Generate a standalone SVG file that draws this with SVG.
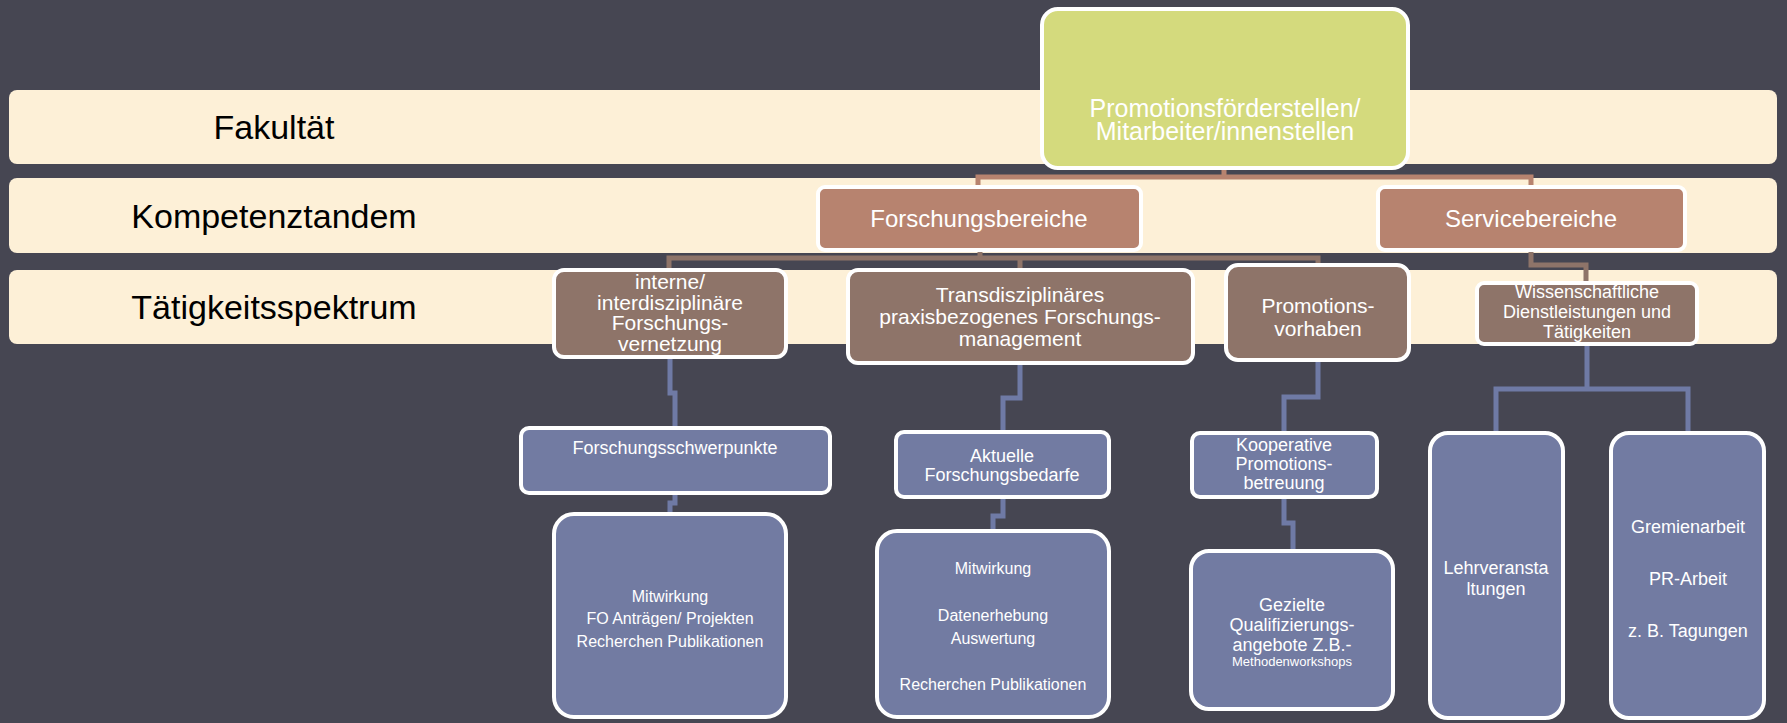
<svg xmlns="http://www.w3.org/2000/svg" width="1787" height="723" viewBox="0 0 1787 723">
<style>
text{font-family:"Liberation Sans",Arial,sans-serif;text-anchor:middle;fill:#ffffff}
.band{fill:#FDF0D7}
.bl{fill:#000000;font-size:34px}
.root{fill:#D4DA7D;stroke:#ffffff;stroke-width:4}
.l2{fill:#B7836F;stroke:#ffffff;stroke-width:4}
.l3{fill:#8E7469;stroke:#ffffff;stroke-width:4}
.bx{fill:#727BA2;stroke:#ffffff;stroke-width:4}
.c2{fill:none;stroke:#B7836F;stroke-width:5}
.c3{fill:none;stroke:#8E7469;stroke-width:5}
.cb{fill:none;stroke:#6F7AA5;stroke-width:5}
</style>
<rect x="0" y="0" width="1787" height="723" fill="#464652"/>
<g id="bands">
<rect class="band" x="9" y="90" width="1768" height="74" rx="8"/>
<rect class="band" x="9" y="178" width="1768" height="75" rx="8"/>
<rect class="band" x="9" y="270" width="1768" height="74" rx="8"/>
<text class="bl" x="274" y="139">Fakultät</text>
<text class="bl" x="274" y="228">Kompetenztandem</text>
<text class="bl" x="274" y="319">Tätigkeitsspektrum</text>
</g>
<g id="connectors">
<path class="c2" d="M1224,168 V177 M978,187 V177 H1531 V187"/>
<path class="c3" d="M980,250 V258 H669 V270 M980,258 H1318 V265 M1020,258 V270"/>
<path class="c3" d="M1531,250 V265 H1586 V283"/>
<path class="cb" d="M670,357 V393 H675 V428 M675,493 V503 H670 V514"/>
<path class="cb" d="M1020,363 V398 H1003 V432 M1003,497 V516 H993 V531"/>
<path class="cb" d="M1318,360 V397 H1284 V433 M1284,497 V523 H1293 V551"/>
<path class="cb" d="M1587,344 V389 M1496,433 V389 H1688 V433"/>
</g>
<g id="root">
<rect class="root" x="1042" y="9" width="366" height="159" rx="16"/>
<text font-size="25"><tspan x="1225" y="117">Promotionsförderstellen/</tspan><tspan x="1225" y="140">Mitarbeiter/innenstellen</tspan></text>
</g>
<g id="forschungsbereiche">
<rect class="l2" x="818" y="187" width="323" height="63" rx="7"/>
<text font-size="24" x="979" y="227">Forschungsbereiche</text>
</g>
<g id="servicebereiche">
<rect class="l2" x="1378" y="187" width="307" height="63" rx="7"/>
<text font-size="24" x="1531" y="227">Servicebereiche</text>
</g>
<g id="interne">
<rect class="l3" x="554" y="270" width="232" height="87" rx="10"/>
<text font-size="21"><tspan x="670" y="289">interne/</tspan><tspan x="670" y="310">interdisziplinäre</tspan><tspan x="670" y="330">Forschungs-</tspan><tspan x="670" y="351">vernetzung</tspan></text>
</g>
<g id="transdisziplinaer">
<rect class="l3" x="848" y="270" width="345" height="93" rx="10"/>
<text font-size="21"><tspan x="1020" y="302">Transdisziplinäres</tspan><tspan x="1020" y="324">praxisbezogenes Forschungs-</tspan><tspan x="1020" y="346">management</tspan></text>
</g>
<g id="promotionsvorhaben">
<rect class="l3" x="1226" y="265" width="183" height="95" rx="12"/>
<text font-size="21"><tspan x="1318" y="313">Promotions-</tspan><tspan x="1318" y="336">vorhaben</tspan></text>
</g>
<g id="wissenschaftliche">
<rect class="l3" x="1477" y="283" width="220" height="61" rx="7"/>
<text font-size="18"><tspan x="1587" y="298">Wissenschaftliche</tspan><tspan x="1587" y="318">Dienstleistungen und</tspan><tspan x="1587" y="338">Tätigkeiten</tspan></text>
</g>
<g id="forschungsschwerpunkte">
<rect class="bx" x="521" y="428" width="309" height="65" rx="8"/>
<text font-size="18" x="675" y="454">Forschungsschwerpunkte</text>
</g>
<g id="aktuelle">
<rect class="bx" x="896" y="432" width="213" height="65" rx="8"/>
<text font-size="18"><tspan x="1002" y="462">Aktuelle</tspan><tspan x="1002" y="481">Forschungsbedarfe</tspan></text>
</g>
<g id="kooperative">
<rect class="bx" x="1192" y="433" width="185" height="64" rx="8"/>
<text font-size="18"><tspan x="1284" y="451">Kooperative</tspan><tspan x="1284" y="470">Promotions-</tspan><tspan x="1284" y="489">betreuung</tspan></text>
</g>
<g id="mitwirkung1">
<rect class="bx" x="554" y="514" width="232" height="203" rx="20"/>
<text font-size="16"><tspan x="670" y="602">Mitwirkung</tspan><tspan x="670" y="624">FO Anträgen/ Projekten</tspan><tspan x="670" y="647">Recherchen Publikationen</tspan></text>
</g>
<g id="mitwirkung2">
<rect class="bx" x="877" y="531" width="232" height="186" rx="20"/>
<text font-size="16"><tspan x="993" y="574">Mitwirkung</tspan><tspan x="993" y="621">Datenerhebung</tspan><tspan x="993" y="644">Auswertung</tspan><tspan x="993" y="690">Recherchen Publikationen</tspan></text>
</g>
<g id="gezielte">
<rect class="bx" x="1191" y="551" width="202" height="158" rx="18"/>
<text font-size="18"><tspan x="1292" y="611">Gezielte</tspan><tspan x="1292" y="631">Qualifizierungs-</tspan><tspan x="1292" y="651">angebote Z.B.-</tspan><tspan x="1292" y="666" font-size="13">Methodenworkshops</tspan></text>
</g>
<g id="lehrveranstaltungen">
<rect class="bx" x="1430" y="433" width="133" height="285" rx="18"/>
<text font-size="18"><tspan x="1496" y="574">Lehrveransta</tspan><tspan x="1496" y="595">ltungen</tspan></text>
</g>
<g id="gremienarbeit">
<rect class="bx" x="1611" y="433" width="153" height="285" rx="18"/>
<text font-size="18"><tspan x="1688" y="533">Gremienarbeit</tspan><tspan x="1688" y="585">PR-Arbeit</tspan><tspan x="1688" y="637">z. B. Tagungen</tspan></text>
</g>
</svg>
